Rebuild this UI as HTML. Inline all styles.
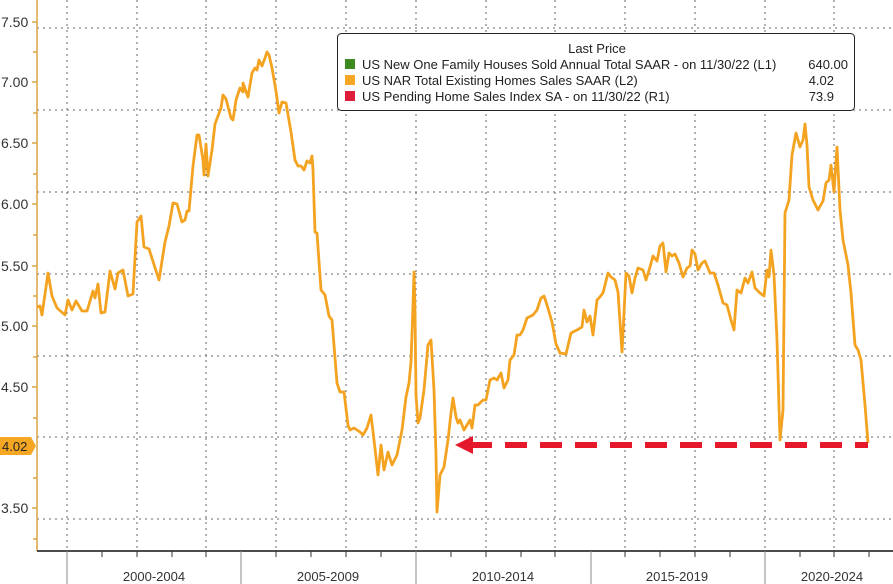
<!DOCTYPE html>
<html><head><meta charset="utf-8"><style>
html,body{margin:0;padding:0;background:#fff;}
svg{display:block;font-family:"Liberation Sans",sans-serif;}
</style></head><body>
<svg width="893" height="584" viewBox="0 0 893 584" xmlns="http://www.w3.org/2000/svg">
<rect width="893" height="584" fill="#fff"/>
<g stroke="#666" stroke-width="1" stroke-dasharray="2,4">
<line x1="37" y1="28" x2="893" y2="28"/>
<line x1="37" y1="110" x2="893" y2="110"/>
<line x1="37" y1="192" x2="893" y2="192"/>
<line x1="37" y1="274" x2="893" y2="274"/>
<line x1="37" y1="356" x2="893" y2="356"/>
<line x1="37" y1="437" x2="893" y2="437"/>
<line x1="37" y1="519" x2="893" y2="519"/>
<line x1="67" y1="0" x2="67" y2="551"/>
<line x1="137" y1="0" x2="137" y2="551"/>
<line x1="206" y1="0" x2="206" y2="551"/>
<line x1="276" y1="0" x2="276" y2="551"/>
<line x1="346" y1="0" x2="346" y2="551"/>
<line x1="416" y1="0" x2="416" y2="551"/>
<line x1="486" y1="0" x2="486" y2="551"/>
<line x1="555" y1="0" x2="555" y2="551"/>
<line x1="625" y1="0" x2="625" y2="551"/>
<line x1="695" y1="0" x2="695" y2="551"/>
<line x1="765" y1="0" x2="765" y2="551"/>
<line x1="834" y1="0" x2="834" y2="551"/>
</g>
<line x1="37" y1="0" x2="37" y2="551" stroke="#d9a441" stroke-width="1.5"/>
<g stroke="#d9a441" stroke-width="1.5">
<line x1="32" y1="22" x2="37" y2="22"/><line x1="33" y1="52" x2="37" y2="52"/>
<line x1="32" y1="82" x2="37" y2="82"/><line x1="33" y1="113" x2="37" y2="113"/>
<line x1="32" y1="143" x2="37" y2="143"/><line x1="33" y1="174" x2="37" y2="174"/>
<line x1="32" y1="204" x2="37" y2="204"/><line x1="33" y1="235" x2="37" y2="235"/>
<line x1="32" y1="266" x2="37" y2="266"/><line x1="33" y1="296" x2="37" y2="296"/>
<line x1="32" y1="326" x2="37" y2="326"/><line x1="33" y1="357" x2="37" y2="357"/>
<line x1="32" y1="387" x2="37" y2="387"/><line x1="33" y1="418" x2="37" y2="418"/>
<line x1="33" y1="478" x2="37" y2="478"/>
<line x1="32" y1="508" x2="37" y2="508"/><line x1="33" y1="539" x2="37" y2="539"/>
</g>
<g font-size="14" fill="#333">
<text x="1" y="27">7.50</text>
<text x="1" y="87">7.00</text>
<text x="1" y="148">6.50</text>
<text x="1" y="209">6.00</text>
<text x="1" y="271">5.50</text>
<text x="1" y="331">5.00</text>
<text x="1" y="392">4.50</text>
<text x="1" y="513">3.50</text>
</g>
<polygon points="0,437 31,437 36,446 31,455 0,455" fill="#f5a623"/>
<text x="2" y="451" font-size="13" fill="#222">4.02</text>
<polyline fill="none" stroke="#f4a321" stroke-width="2.8" stroke-linejoin="round" points="
37,307 40,306 42,315 48,273 52,296 57,308 65,315 68,300 72,310 76,301 82,311 87,311 93,291 95,298 98,284 101,313 105,312 110,271 115,289 118,273 123,270 128,296 133,294 137,222 141,216 144,247 149,249 159,280 165,242 169,226 173,203 177,204 182,222 185,220 187,211 189,211 193,166 197,135 199,135 203,160 204,175 206,144 208,176 212,150 215,124 221,108 223,95 226,99 231,118 233,120 236,100 240,88 243,92 243,83 248,97 252,73 255,68 257,70 259,60 262,66 265,58 267,52 269,55 272,68 276,91 279,113 282,102 286,103 291,132 295,160 298,166 301,166 304,170 307,161 310,163 312,156 313,170 315,232 317,233 321,290 325,295 329,316 332,320 334,345 337,383 340,392 344,392 348,425 350,430 354,428 357,430 360,432 363,435 367,428 371,415 374,440 378,475 381,445 384,470 388,452 392,465 397,455 402,430 406,397 409,383 411,362 413,305 414,272 415,310 416,395 418,423 420,418 424,390 428,345 431,340 434,390 436,455 437,512 440,475 444,467 448,440 451,413 453,398 456,417 458,423 460,420 464,430 467,425 470,420 472,428 475,405 478,405 483,400 486,400 490,380 494,378 497,380 501,373 504,388 508,380 510,360 514,355 517,335 520,335 523,330 527,318 533,315 537,310 541,298 544,296 547,305 552,322 556,344 560,353 566,354 571,333 577,330 582,327 584,310 587,322 590,316 593,335 597,300 599,298 603,293 608,273 611,277 615,280 618,292 622,352 623,333 626,273 629,276 632,293 635,278 638,268 643,270 646,280 650,267 653,256 657,261 660,246 663,243 666,272 669,253 672,256 675,254 679,263 683,277 687,268 690,266 692,250 695,254 698,270 702,263 705,261 710,273 714,273 718,285 723,303 727,305 731,320 734,330 737,290 741,293 745,278 748,283 752,272 755,288 760,293 764,296 767,270 769,277 771,250 774,275 777,340 780,440 783,410 785,213 789,200 792,155 796,133 800,147 803,140 805,124 807,145 809,187 813,200 815,204 818,210 823,201 826,183 829,180 831,165 834,192 837,147 840,210 843,240 848,265 851,293 855,345 858,350 861,360 865,405 868,443"/>
<line x1="470" y1="445" x2="868" y2="445" stroke="#e5182c" stroke-width="6" stroke-dasharray="22,13"/>
<polygon points="455,445 473,436 473,454" fill="#e5182c"/>
<rect x="337.5" y="33.5" width="517" height="77" rx="4" fill="#fff" stroke="#222" stroke-width="1"/>
<g font-size="13" fill="#222">
<text x="597" y="53" text-anchor="middle">Last Price</text>
<rect x="345" y="59" width="10" height="10" fill="#3d8a1f"/>
<text x="362" y="69">US New One Family Houses Sold Annual Total SAAR -  on 11/30/22  (L1)</text>
<text x="848" y="69" text-anchor="end">640.00</text>
<rect x="345" y="75" width="10" height="10" fill="#f5a623"/>
<text x="362" y="85">US NAR Total Existing Homes Sales SAAR  (L2)</text>
<text x="834" y="85" text-anchor="end">4.02</text>
<rect x="345" y="91" width="10" height="10" fill="#e01c3c"/>
<text x="362" y="101">US Pending Home Sales Index SA -  on 11/30/22  (R1)</text>
<text x="834" y="101" text-anchor="end">73.9</text>
</g>
<line x1="37" y1="551" x2="893" y2="551" stroke="#111" stroke-width="1.5"/>
<g stroke="#888" stroke-width="1">
<line x1="67" y1="551" x2="67" y2="584"/><line x1="241" y1="551" x2="241" y2="584"/>
<line x1="416" y1="551" x2="416" y2="584"/><line x1="591" y1="551" x2="591" y2="584"/>
<line x1="765" y1="551" x2="765" y2="584"/>
</g>
<g stroke="#333" stroke-width="1">
<line x1="102" y1="551" x2="102" y2="557"/><line x1="137" y1="551" x2="137" y2="557"/><line x1="172" y1="551" x2="172" y2="557"/><line x1="206" y1="551" x2="206" y2="557"/>
<line x1="276" y1="551" x2="276" y2="557"/><line x1="311" y1="551" x2="311" y2="557"/><line x1="346" y1="551" x2="346" y2="557"/><line x1="381" y1="551" x2="381" y2="557"/>
<line x1="451" y1="551" x2="451" y2="557"/><line x1="486" y1="551" x2="486" y2="557"/><line x1="521" y1="551" x2="521" y2="557"/><line x1="555" y1="551" x2="555" y2="557"/>
<line x1="625" y1="551" x2="625" y2="557"/><line x1="660" y1="551" x2="660" y2="557"/><line x1="695" y1="551" x2="695" y2="557"/><line x1="730" y1="551" x2="730" y2="557"/>
<line x1="800" y1="551" x2="800" y2="557"/><line x1="834" y1="551" x2="834" y2="557"/><line x1="869" y1="551" x2="869" y2="557"/>
</g>
<g font-size="13" fill="#333" text-anchor="middle">
<text x="154" y="581">2000-2004</text>
<text x="328" y="581">2005-2009</text>
<text x="503" y="581">2010-2014</text>
<text x="677" y="581">2015-2019</text>
<text x="832" y="581">2020-2024</text>
</g>
</svg>
</body></html>
